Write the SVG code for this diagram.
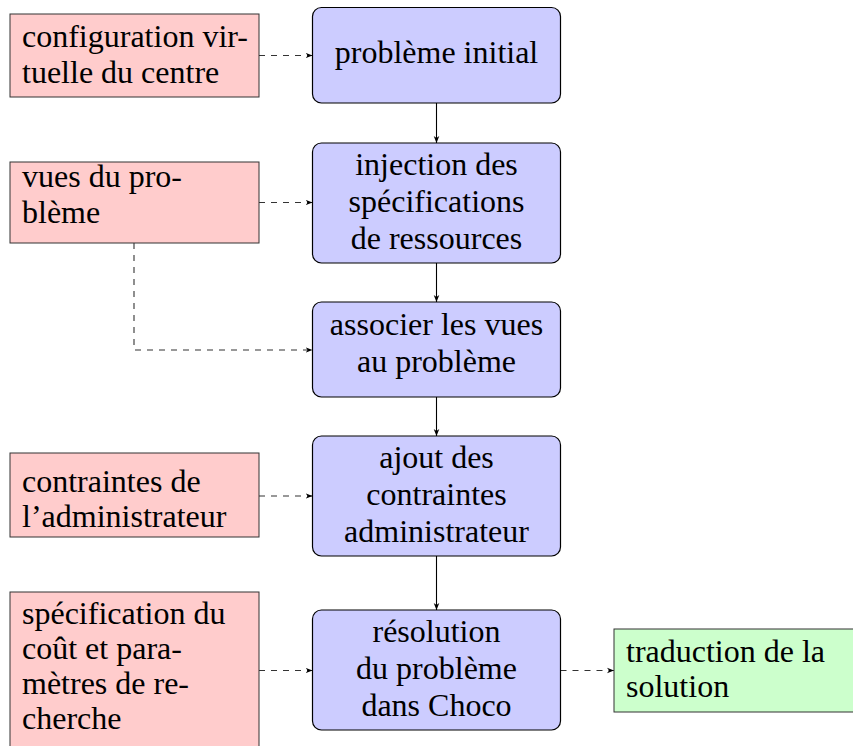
<svg xmlns="http://www.w3.org/2000/svg" width="853" height="746" viewBox="0 0 853 746">
<style>
  text { font-family: 'Liberation Serif', Tinos, 'Times New Roman', Times, 'DejaVu Serif', serif; font-size: 32px; fill: #000; }
  .c { text-anchor: middle; }
  .blue { fill: #ccccff; stroke: #000; stroke-width: 1.2; }
  .red { fill: #ffcccc; stroke: #333; stroke-width: 1; }
  .green { fill: #ccffcc; stroke: #333; stroke-width: 1; }
  .solid { fill: none; stroke: #000; stroke-width: 1.1; marker-end: url(#ah); }
  .dash { fill: none; stroke: #333; stroke-width: 1.1; stroke-dasharray: 6 6; marker-end: url(#ah); }
</style>
<defs>
  <marker id="ah" viewBox="0 0 10 10" refX="10" refY="5" markerWidth="7" markerHeight="7" markerUnits="userSpaceOnUse" orient="auto">
    <path d="M0,1 L10,5 L0,9 L3,5 Z" fill="#000"/>
  </marker>
</defs>
<rect width="853" height="746" fill="#fff"/>

<g id="connectors">
  <path class="solid" d="M436.5,103 L436.5,143"/>
  <path class="solid" d="M436.5,263 L436.5,302"/>
  <path class="solid" d="M436.5,397 L436.5,436"/>
  <path class="solid" d="M436.5,556 L436.5,610"/>
  <path class="dash" d="M259,55.5 L312.5,55.5"/>
  <path class="dash" d="M259,202.5 L312.5,202.5"/>
  <path class="dash" d="M134,243 L134,350 L312.5,350"/>
  <path class="dash" d="M259,496 L312.5,496"/>
  <path class="dash" d="M259,670.5 L312.5,670.5"/>
  <path class="dash" d="M560.5,670.5 L614,670.5"/>
</g>

<g id="n_config" font-family="Liberation Serif, serif">
  <rect class="red" x="10" y="14" width="249" height="83"/>
  <text x="22" y="47">configuration vir-</text>
  <text x="22" y="83">tuelle du centre</text>
</g>
<g id="n_initial">
  <rect class="blue" x="312.5" y="7.5" width="248" height="95.5" rx="9"/>
  <text class="c" x="436.5" y="63">problème initial</text>
</g>
<g id="n_vues">
  <rect class="red" x="10" y="162" width="249" height="81"/>
  <text x="22" y="187">vues du pro-</text>
  <text x="22" y="223">blème</text>
</g>
<g id="n_injection">
  <rect class="blue" x="312.5" y="143" width="248" height="120" rx="9"/>
  <text class="c" x="436.5" y="175">injection des</text>
  <text class="c" x="436.5" y="212">spécifications</text>
  <text class="c" x="436.5" y="249">de ressources</text>
</g>
<g id="n_associer">
  <rect class="blue" x="312.5" y="302" width="248" height="95" rx="9"/>
  <text class="c" x="436.5" y="335">associer les vues</text>
  <text class="c" x="436.5" y="372">au problème</text>
</g>
<g id="n_contraintes">
  <rect class="red" x="10" y="453" width="249" height="84"/>
  <text x="22" y="492">contraintes de</text>
  <text x="22" y="527">l’administrateur</text>
</g>
<g id="n_ajout">
  <rect class="blue" x="312.5" y="436" width="248" height="120" rx="9"/>
  <text class="c" x="436.5" y="468">ajout des</text>
  <text class="c" x="436.5" y="505">contraintes</text>
  <text class="c" x="436.5" y="542">administrateur</text>
</g>
<g id="n_cout">
  <rect class="red" x="10" y="592" width="249" height="170"/>
  <text x="22" y="624">spécification du</text>
  <text x="22" y="659">coût et para-</text>
  <text x="22" y="694">mètres de re-</text>
  <text x="22" y="729">cherche</text>
</g>
<g id="n_resolution">
  <rect class="blue" x="312.5" y="610" width="248" height="120" rx="9"/>
  <text class="c" x="436.5" y="642">résolution</text>
  <text class="c" x="436.5" y="679">du problème</text>
  <text class="c" x="436.5" y="716">dans Choco</text>
</g>
<g id="n_traduction">
  <rect class="green" x="614" y="629" width="260" height="83"/>
  <text x="626" y="662">traduction de la</text>
  <text x="626" y="697">solution</text>
</g>
</svg>
